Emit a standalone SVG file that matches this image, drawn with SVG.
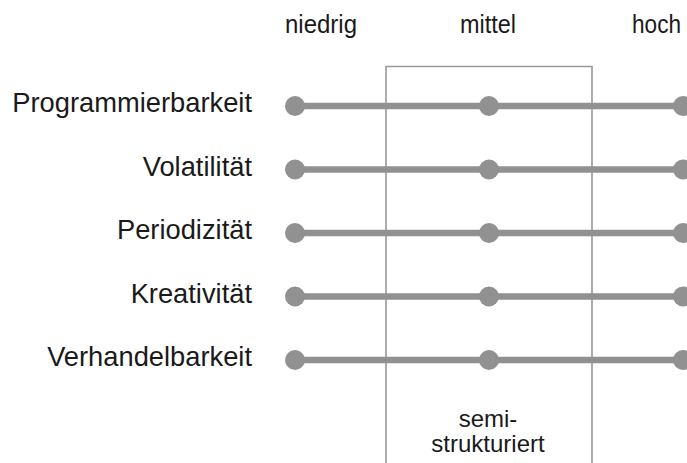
<svg xmlns="http://www.w3.org/2000/svg" width="687" height="463" viewBox="0 0 687 463">
  <style>
    text { font-family: "Liberation Sans", Arial, sans-serif; font-size: 24px; fill: #1a1a1a; }
    .head { font-size: 25.5px; }
    .lbl { text-anchor: end; font-size: 27.3px; }
    .mid { text-anchor: middle; }
    .bar { stroke: #919191; stroke-width: 6.5; fill: none; }
    .dot { fill: #919191; }
    .frame { stroke: #9a9a9a; stroke-width: 1.6; fill: none; }
  </style>
  <defs>
    <g id="scale">
      <line class="bar" x1="295" y1="0" x2="683" y2="0"/>
      <circle class="dot" cx="295" cy="0" r="10"/>
      <circle class="dot" cx="489" cy="0" r="10"/>
      <circle class="dot" cx="683" cy="0" r="10"/>
    </g>
  </defs>
  <rect width="687" height="463" fill="#ffffff"/>

  <!-- column headings -->
  <g id="headings">
    <text class="head" x="285" y="33" textLength="72" lengthAdjust="spacingAndGlyphs">niedrig</text>
    <text class="head" x="460" y="33" textLength="56" lengthAdjust="spacingAndGlyphs">mittel</text>
    <text class="head" x="632" y="33" textLength="49" lengthAdjust="spacingAndGlyphs">hoch</text>
  </g>

  <!-- semi-structured band -->
  <g id="band">
    <polyline class="frame" points="386,470 386,66.5 592,66.5 592,470"/>
    <text class="mid" x="488" y="427">semi-</text>
    <text class="mid" x="488" y="452">strukturiert</text>
  </g>

  <!-- scale rows -->
  <g id="connectors">
    <use href="#scale" y="106"/>
    <use href="#scale" y="169.5"/>
    <use href="#scale" y="233"/>
    <use href="#scale" y="296.5"/>
    <use href="#scale" y="360"/>
  </g>

  <g id="row-programmierbarkeit"><text class="lbl" x="252" y="112">Programmierbarkeit</text></g>
  <g id="row-volatilitaet"><text class="lbl" x="252" y="175.5">Volatilität</text></g>
  <g id="row-periodizitaet"><text class="lbl" x="252" y="239">Periodizität</text></g>
  <g id="row-kreativitaet"><text class="lbl" x="252" y="302.5">Kreativität</text></g>
  <g id="row-verhandelbarkeit"><text class="lbl" x="252" y="366">Verhandelbarkeit</text></g>
</svg>
